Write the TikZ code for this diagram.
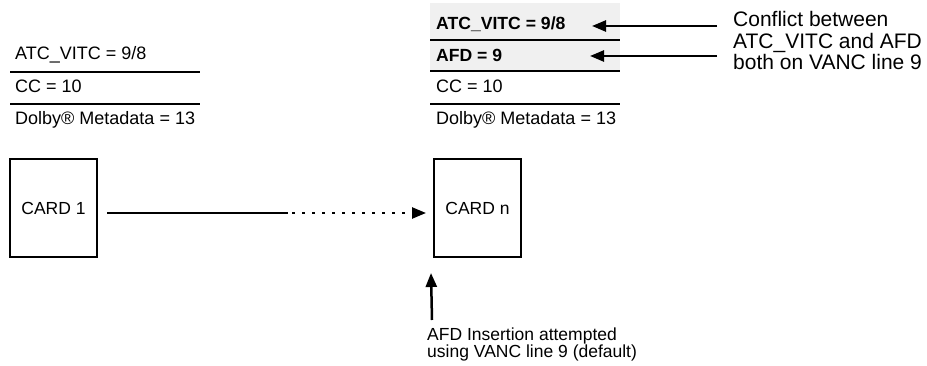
\documentclass[tikz,border=0pt]{standalone}
\usepackage{fontspec}
\setmainfont{Liberation Sans}
\usetikzlibrary{arrows.meta}
\begin{document}
\begin{tikzpicture}[x=1pt,y=-1pt,
  tbl/.style={anchor=base west, inner sep=0pt, font=\fontsize{18}{20}\selectfont},
  tblb/.style={anchor=base west, inner sep=0pt, font=\fontsize{17.6}{20}\selectfont\bfseries},
  rulel/.style={line width=2pt},
  card/.style={draw, line width=2pt, minimum width=87pt, minimum height=98pt, inner sep=0pt, font=\fontsize{17.5}{20}\selectfont},
  note/.style={anchor=base west, inner sep=0pt, font=\fontsize{21}{24}\selectfont},
  note2/.style={anchor=base west, inner sep=0pt, font=\fontsize{17.5}{20}\selectfont},
  arr/.style={line width=2.5pt, -{Triangle[length=14pt,width=11pt]}},
  dots/.style={line width=2.5pt, dash pattern=on 2.5pt off 7.5pt, dash phase=-4pt, -{Triangle[length=14pt,width=11pt]}}
]
\useasboundingbox (0,0) rectangle (927,366);

% left table
\node[tbl] (lt1) at (15,60) {ATC\_VITC = 9/8};
\node[tbl] (lt2) at (15,93) {CC = 10};
\node[tbl] (lt3) at (15,124.5) {Dolby® Metadata = 13};
\draw[rulel] (10,72) -- (200,72);
\draw[rulel] (10,104) -- (200,104);

% right table
\fill[black!6] (430,3) rectangle (620,71);
\node[tblb] (rt1) at (436,29.5) {ATC\_VITC = 9/8};
\node[tblb] (rt2) at (436,61.5) {AFD = 9};
\node[tbl] (rt3) at (436,93) {CC = 10};
\node[tbl] (rt4) at (436,124.5) {Dolby® Metadata = 13};
\draw[rulel] (430,40) -- (620,40);
\draw[rulel] (430,71) -- (620,71);
\draw[rulel] (430,104) -- (620,104);

% conflict note
\node[note] (conf1) at (733,27) {Conflict between};
\node[note] (conf2) at (733,48.5) {ATC\_VITC and AFD};
\node[note] (conf3) at (733,70) {both on VANC line 9};
\coordinate (c1) at (717,26);
\coordinate (t1) at (592,26);
\coordinate (c2) at (717,56);
\coordinate (t2) at (590,56);
\draw[arr] (c1) -- (t1);
\draw[arr] (c2) -- (t2);

% cards
\node[card] (card1) at (53.5,208) {CARD 1};
\node[card] (cardn) at (477.5,208) {CARD n};
\coordinate (m) at (288,213);
\draw[line width=2.5pt] ([shift={(9,5)}]card1.east) -- (m);
\draw[dots] (m) -- ([shift={(-7,5)}]cardn.west);

% insertion note
\coordinate (ub) at (432,320);
\draw[arr] (ub) -- ([shift={(-2,15)}]cardn.south west);
\node[note2] (ins1) at (427,340) {AFD Insertion attempted};
\node[note2] (ins2) at (427,357.5) {using VANC line 9 (default)};
\end{tikzpicture}
\end{document}
